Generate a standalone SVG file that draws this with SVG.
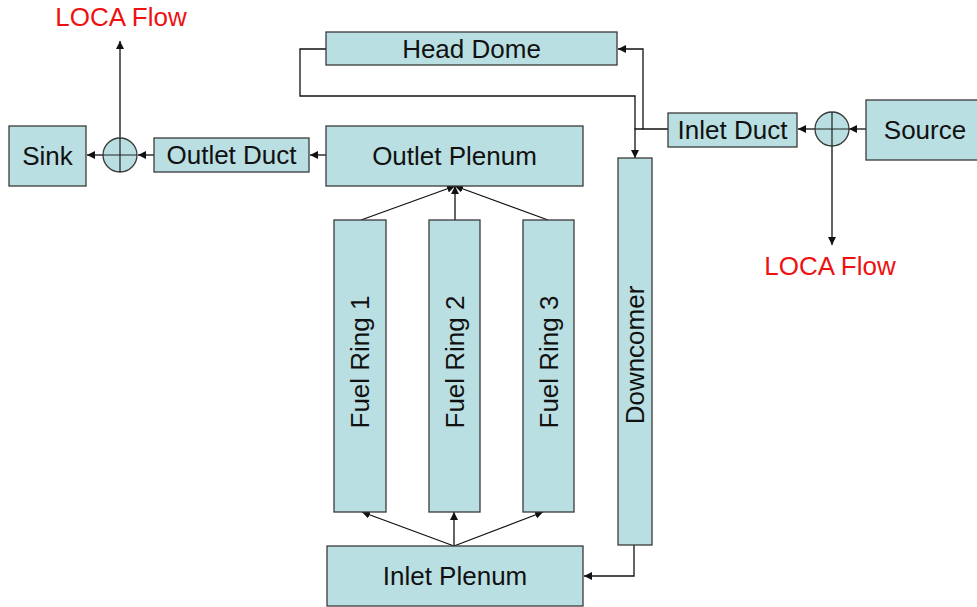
<svg xmlns="http://www.w3.org/2000/svg" width="977" height="607" viewBox="0 0 977 607">
<style>
.box{fill:#b9dfe2;stroke:#3a3a3a;stroke-width:1.3}
.t{font-family:"Liberation Sans",Arial,sans-serif;font-size:26px;fill:#111;text-anchor:middle;dominant-baseline:central}
.red{fill:#ee1111}
.c{fill:none;stroke:#111;stroke-width:1.3}
.x{fill:none;stroke:#222;stroke-width:1.2}
</style>
<defs>
<marker id="a" viewBox="0 0 10 10" refX="10" refY="5" markerWidth="8" markerHeight="8" markerUnits="userSpaceOnUse" orient="auto">
<path d="M0,0L10,5L0,10z" fill="#111"/>
</marker>
</defs>
<rect width="977" height="607" fill="#fff"/>
<g id="connectors">
<path class="c" d="M326,155H310" marker-end="url(#a)"/>
<path class="c" d="M154,155H138" marker-end="url(#a)"/>
<path class="c" d="M103,155H87" marker-end="url(#a)"/>
<path class="c" d="M120,139V41" marker-end="url(#a)"/>
<path class="c" d="M866,129H849" marker-end="url(#a)"/>
<path class="c" d="M815,129H798" marker-end="url(#a)"/>
<path class="c" d="M832,146V245" marker-end="url(#a)"/>
<path class="c" d="M668,129H643V49H618" marker-end="url(#a)"/>
<path class="c" d="M643,129H635V158" marker-end="url(#a)"/>
<path class="c" d="M326,49H300V96H635V129"/>
<path class="c" d="M634,545V576H584" marker-end="url(#a)"/>
<path class="c" d="M454,546L362,512" marker-end="url(#a)"/>
<path class="c" d="M454,546V512" marker-end="url(#a)"/>
<path class="c" d="M454,546L543,512" marker-end="url(#a)"/>
<path class="c" d="M361,220L455,186" marker-end="url(#a)"/>
<path class="c" d="M455,220V186" marker-end="url(#a)"/>
<path class="c" d="M548,220L455,186" marker-end="url(#a)"/>
</g>
<g id="loca-left"><text class="t red" x="121" y="17">LOCA Flow</text></g>
<g id="loca-right"><text class="t red" x="830" y="266">LOCA Flow</text></g>
<g id="sink"><rect class="box" x="9" y="126" width="77" height="60"/><text class="t" x="47.5" y="156">Sink</text></g>
<g id="junction-left"><circle class="box" cx="120" cy="155" r="17"/><path class="x" d="M103,155H137M120,138V172"/></g>
<g id="outlet-duct"><rect class="box" x="154" y="138" width="155" height="34"/><text class="t" x="231.5" y="155">Outlet Duct</text></g>
<g id="outlet-plenum"><rect class="box" x="326" y="126" width="257" height="60"/><text class="t" x="454.5" y="156">Outlet Plenum</text></g>
<g id="head-dome"><rect class="box" x="326" y="32" width="291" height="33"/><text class="t" x="471.5" y="48.5">Head Dome</text></g>
<g id="inlet-duct"><rect class="box" x="668" y="113" width="129" height="34"/><text class="t" x="732.5" y="130">Inlet Duct</text></g>
<g id="junction-right"><circle class="box" cx="832" cy="129" r="17"/><path class="x" d="M815,129H849M832,112V146"/></g>
<g id="source"><rect class="box" x="866" y="100" width="120" height="60"/><text class="t" x="925" y="130">Source</text></g>
<g id="fuel-ring-1"><rect class="box" x="334" y="220" width="52" height="292"/><text class="t" transform="translate(360,362) rotate(-90)">Fuel Ring 1</text></g>
<g id="fuel-ring-2"><rect class="box" x="429" y="220" width="51" height="292"/><text class="t" transform="translate(454.5,362) rotate(-90)">Fuel Ring 2</text></g>
<g id="fuel-ring-3"><rect class="box" x="523" y="220" width="51" height="292"/><text class="t" transform="translate(548.5,362) rotate(-90)">Fuel Ring 3</text></g>
<g id="downcomer"><rect class="box" x="618" y="158" width="34" height="387"/><text class="t" transform="translate(635,355) rotate(-90)">Downcomer</text></g>
<g id="inlet-plenum"><rect class="box" x="327" y="546" width="256" height="60"/><text class="t" x="455" y="576">Inlet Plenum</text></g>
</svg>
